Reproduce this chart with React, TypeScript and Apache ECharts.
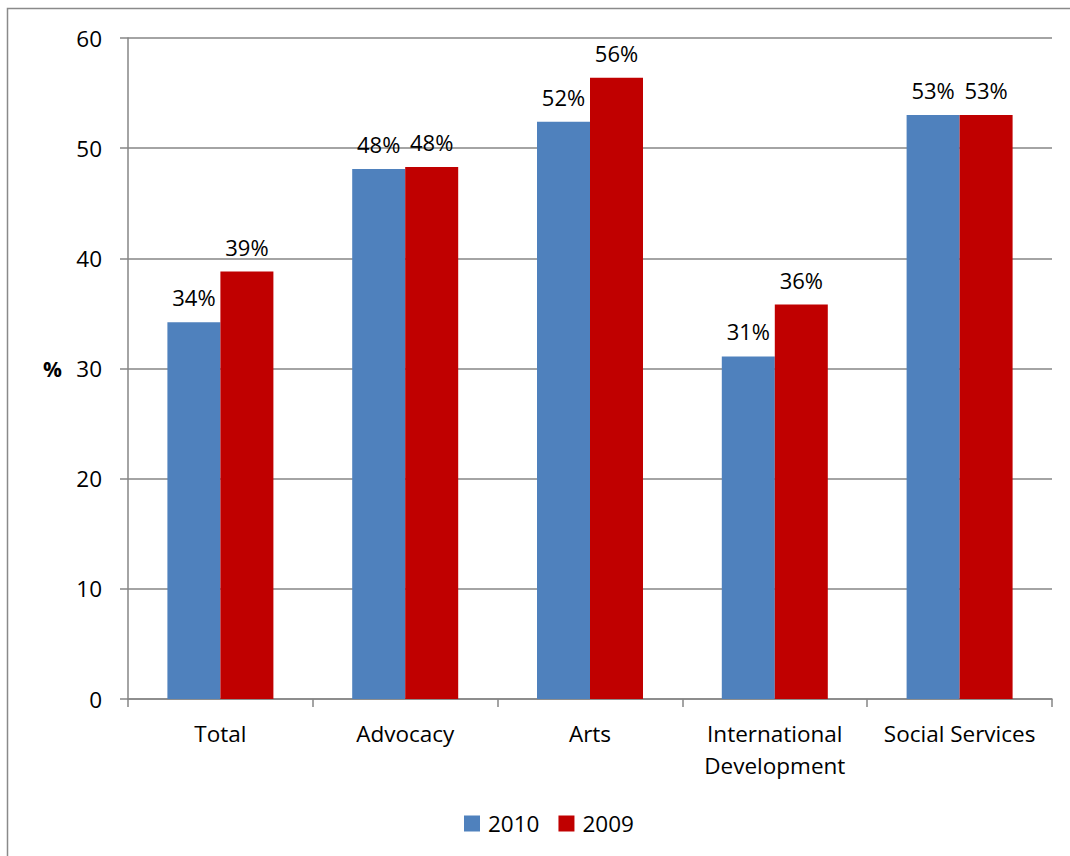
import React, { useEffect, useRef } from "react";
import * as echarts from "echarts";

const categories = ["Total", "Advocacy", "Arts", "International\nDevelopment", "Social Services"];
const series2010 = [34.2, 48.1, 52.4, 31.1, 53.0];
const series2009 = [38.8, 48.3, 56.4, 35.8, 53.0];
const labels2010 = ["34%", "48%", "52%", "31%", "53%"];
const labels2009 = ["39%", "48%", "56%", "36%", "53%"];
const yTicks = { min: 0, max: 60, interval: 10 };

const FONT = "'Open Sans', 'Noto Sans', sans-serif";

export default function App() {
  const ref = useRef<HTMLDivElement>(null);
  useEffect(() => {
    if (!ref.current) return;
    const chart = echarts.init(ref.current, undefined, { renderer: "svg" });
    const axisGray = "#868686";
    chart.setOption({
      animation: false,
      backgroundColor: "#ffffff",
      textStyle: { fontFamily: FONT },
      graphic: [
        {
          type: "rect",
          shape: { x: 7.5, y: 8.5, width: 1200, height: 1000 },
          style: { fill: "none", stroke: "#8a8a8a", lineWidth: 1.5 },
          silent: true,
        },
      ],
      grid: { left: 128, top: 38, width: 924, height: 661, containLabel: false },
      legend: {
        data: ["2010", "2009"],
        top: 807,
        left: 459,
        icon: "rect",
        itemWidth: 16,
        itemHeight: 16,
        itemGap: 19,
        textStyle: { fontFamily: FONT, fontSize: 22.5, color: "#000", padding: [0, 0, 0, 3] },
      },
      xAxis: {
        type: "category",
        data: categories,
        axisLine: { show: true, lineStyle: { color: axisGray, width: 1.5 } },
        axisTick: { show: true, alignWithLabel: false, length: 8, lineStyle: { color: axisGray, width: 1.5 } },
        axisLabel: {
          fontFamily: FONT,
          fontSize: 22.5,
          color: "#000",
          margin: 18,
          lineHeight: 32,
          interval: 0,
        },
      },
      yAxis: {
        type: "value",
        min: yTicks.min,
        max: yTicks.max,
        interval: yTicks.interval,
        name: "%",
        nameLocation: "middle",
        nameRotate: 0,
        nameGap: 66,
        nameTextStyle: { fontFamily: FONT, fontSize: 21, fontWeight: "bold", color: "#000" },
        axisLine: { show: true, lineStyle: { color: axisGray, width: 1.5 } },
        axisTick: { show: true, length: 8, lineStyle: { color: axisGray, width: 1.5 } },
        splitLine: { show: true, lineStyle: { color: axisGray, width: 1.5 } },
        axisLabel: { fontFamily: FONT, fontSize: 22.5, color: "#000", margin: 26 },
      },
      series: [
        {
          name: "2010",
          type: "bar",
          data: series2010,
          barWidth: 53,
          barGap: "0%",
          itemStyle: { color: "#4F81BD" },
          label: {
            show: true,
            position: "top",
            distance: 14,
            fontFamily: FONT,
            fontSize: 22,
            color: "#000",
            formatter: (p: any) => labels2010[p.dataIndex],
          },
        },
        {
          name: "2009",
          type: "bar",
          data: series2009,
          barWidth: 53,
          barGap: "0%",
          itemStyle: { color: "#C00000" },
          label: {
            show: true,
            position: "top",
            distance: 14,
            fontFamily: FONT,
            fontSize: 22,
            color: "#000",
            formatter: (p: any) => labels2009[p.dataIndex],
          },
        },
      ],
    });
    return () => chart.dispose();
  }, []);
  return (
    <div
      ref={ref}
      style={{ position: "absolute", left: 0, top: 0, width: 1070, height: 856 }}
    />
  );
}
